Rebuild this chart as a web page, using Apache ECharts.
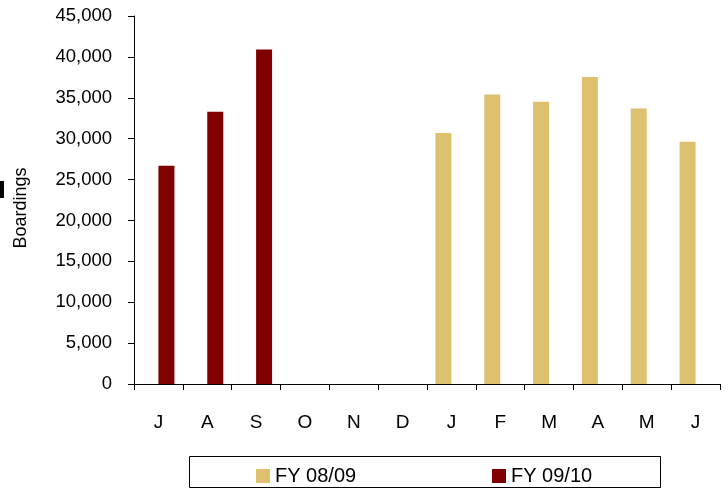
<!DOCTYPE html>
<html>
<head>
<meta charset="utf-8">
<script src="https://cdn.jsdelivr.net/npm/echarts@6/dist/echarts.min.js"></script>
<style>html,body{margin:0;padding:0;background:#fff}#c{width:728px;height:489px}</style>
</head>
<body>
<div id="c"></div>
<script>
var categories = ['J','A','S','O','N','D','J','F','M','A','M','J'];
var fy0809 = [null,null,null,null,null,null,30700,35400,34500,37550,33700,29630];
var fy0910 = [26700,33300,40900,null,null,null,null,null,null,null,null,null];
var seriesNames = ['FY 08/09','FY 09/10'];
var yTicks = {min:0, max:45000, interval:5000};

var chart = echarts.init(document.getElementById('c'));
var font = 'Liberation Sans, Arial, sans-serif';
var legendText = {fontFamily:font,fontSize:20,color:'#000'};
chart.setOption({
  animation:false,
  backgroundColor:'#fff',
  grid:{left:134,right:8,top:16,bottom:105,containLabel:false},
  legend:[
    {data:[seriesNames[0]],left:256,top:466,padding:0,itemWidth:14,itemHeight:14,icon:'rect',
     selectedMode:false,textStyle:legendText},
    {data:[seriesNames[1]],left:492,top:466,padding:0,itemWidth:14,itemHeight:14,icon:'rect',
     selectedMode:false,textStyle:legendText}
  ],
  graphic:[
    {type:'rect',shape:{x:189.5,y:456.5,width:471,height:31},style:{fill:'none',stroke:'#000',lineWidth:1},z:-1},
    {type:'rect',shape:{x:0,y:181,width:4,height:17},style:{fill:'#000'}}
  ],
  xAxis:{
    type:'category',data:categories,
    axisLine:{lineStyle:{color:'#000',width:1}},
    axisTick:{show:true,length:6,lineStyle:{color:'#000'}},
    axisLabel:{fontFamily:font,fontSize:19,color:'#000',margin:29,interval:0},
    splitLine:{show:false}
  },
  yAxis:{
    type:'value',min:yTicks.min,max:yTicks.max,interval:yTicks.interval,
    name:'Boardings',nameLocation:'middle',nameGap:104,nameRotate:90,
    nameTextStyle:{fontFamily:font,fontSize:18,color:'#000',padding:[0,16,0,0]},
    axisLine:{show:true,lineStyle:{color:'#000',width:1}},
    axisTick:{show:true,length:6,lineStyle:{color:'#000'}},
    axisLabel:{fontFamily:font,fontSize:18.5,color:'#000',margin:22,
      formatter:function(v){return v.toLocaleString('en-US');}},
    splitLine:{show:false}
  },
  series:[
    {name:seriesNames[0],type:'bar',data:fy0809,barWidth:16,barGap:'0%',
     itemStyle:{color:'#DEC16F'}},
    {name:seriesNames[1],type:'bar',data:fy0910,barWidth:16,barGap:'0%',
     itemStyle:{color:'#800000'}}
  ]
});
</script>
</body>
</html>
